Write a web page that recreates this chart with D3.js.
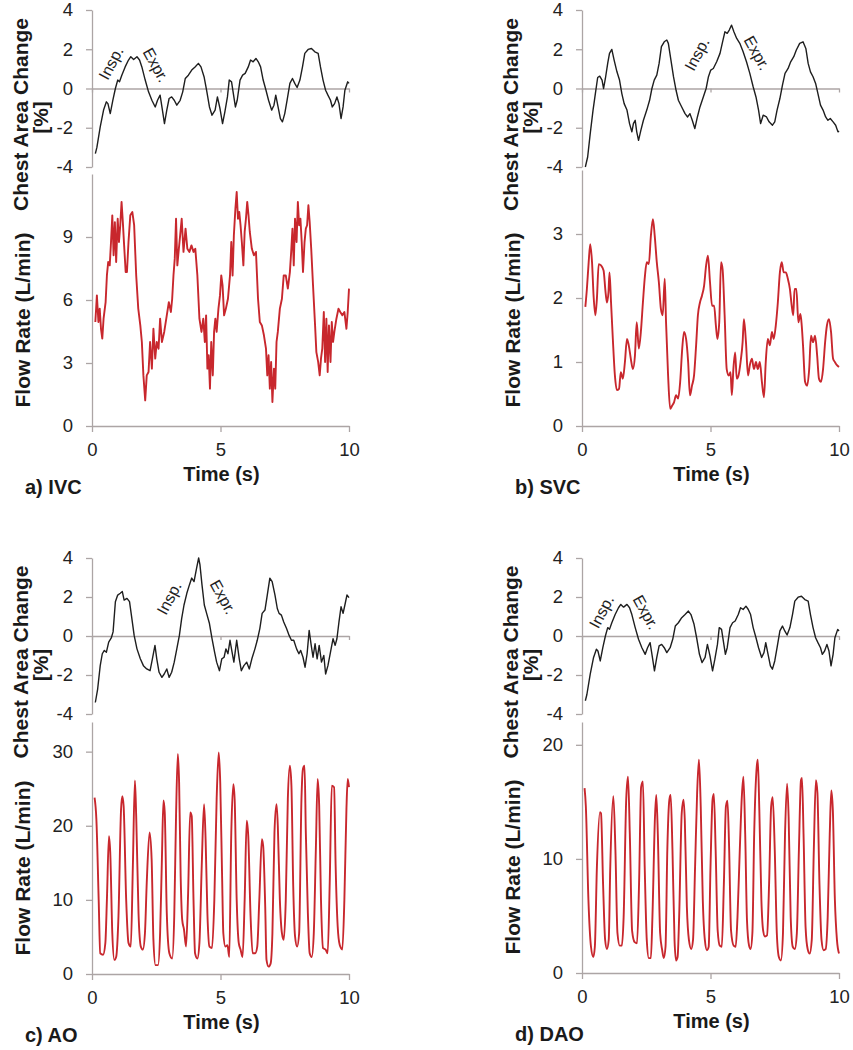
<!DOCTYPE html>
<html><head><meta charset="utf-8">
<script src="https://cdn.jsdelivr.net/npm/d3@7"></script>
<style>
body{margin:0;background:#fff}
svg{display:block}
text{font-family:"Liberation Sans",Arial,sans-serif}
</style>
</head><body><svg id="chart" width="853" height="1050"></svg>
<script>
// ---------- DATA ----------
const timeTicks = [0, 5, 10];
const chestTicks = [-4, -2, 0, 2, 4];
const ivcFlowTicks = [0, 3, 6, 9];
const svcFlowTicks = [0, 1, 2, 3];
const aoFlowTicks = [0, 10, 20, 30];
const daoFlowTicks = [0, 10, 20];
const panelLabels = ["a) IVC", "b) SVC", "c) AO", "d) DAO"];
const chestTitle = ["Chest Area Change", "[%]"];
const flowTitle = "Flow Rate (L/min)";
const timeTitle = "Time (s)";

// chest area change (%) vs time (s) — recorded with IVC and DAO
const chestIVC = [[0.13,-3.32],[0.19,-3.0],[0.32,-1.96],[0.45,-1.1],[0.56,-0.68],[0.62,-0.77],[0.71,-1.28],[0.81,-0.6],[0.91,0],[1.0,0.43],[1.07,0.34],[1.16,0.68],[1.29,1.1],[1.42,1.45],[1.51,1.62],[1.62,1.48],[1.75,1.62],[1.85,1.45],[1.94,1.1],[2.07,0.43],[2.2,-0.17],[2.33,-0.6],[2.46,-0.94],[2.55,-0.6],[2.65,-0.34],[2.74,-1.1],[2.82,-1.79],[2.91,-1.1],[3.0,-0.51],[3.1,-0.43],[3.2,-0.6],[3.3,-0.85],[3.43,-0.6],[3.53,-0.17],[3.63,0.51],[3.75,0.68],[3.88,0.94],[4.01,1.1],[4.14,1.28],[4.24,1.1],[4.36,0.6],[4.46,-0.09],[4.57,-0.94],[4.67,-1.36],[4.79,-1.1],[4.88,-0.43],[4.98,-1.02],[5.08,-1.79],[5.17,-1.19],[5.27,-0.43],[5.34,0.43],[5.43,0.34],[5.5,-0.26],[5.58,-0.94],[5.65,-0.6],[5.76,0.43],[5.86,0.68],[5.96,0.77],[6.08,1.1],[6.17,1.45],[6.27,1.36],[6.38,1.53],[6.47,1.36],[6.56,1.1],[6.66,0.43],[6.77,-0.09],[6.87,-0.6],[6.99,-1.1],[7.08,-0.85],[7.15,-0.34],[7.24,-0.94],[7.33,-1.53],[7.41,-1.7],[7.5,-1.28],[7.59,-0.6],[7.7,0.26],[7.8,0.51],[7.89,0.26],[7.98,0.05],[8.09,0.43],[8.19,1.1],[8.28,1.79],[8.41,1.99],[8.54,2.04],[8.67,1.87],[8.8,1.79],[8.89,1.1],[8.99,0.43],[9.09,-0.09],[9.18,-0.34],[9.28,-0.6],[9.35,-0.94],[9.44,-0.77],[9.53,-0.43],[9.61,-0.77],[9.69,-1.53],[9.77,-0.94],[9.84,-0.09],[9.95,0.34],[10.0,0.26]];

const chestSVC = [[0.13,-4.0],[0.22,-3.49],[0.32,-2.3],[0.43,-1.1],[0.52,-0.26],[0.61,0.56],[0.69,0.63],[0.78,0.43],[0.84,0],[0.91,0.51],[1.0,1.28],[1.07,1.79],[1.16,1.99],[1.25,1.45],[1.36,0.85],[1.46,0.43],[1.55,-0.26],[1.64,-0.77],[1.75,-1.1],[1.85,-1.79],[1.94,-2.21],[2.0,-1.79],[2.07,-1.62],[2.13,-2.21],[2.2,-2.64],[2.29,-2.13],[2.39,-1.62],[2.52,-1.1],[2.63,-0.6],[2.72,0],[2.81,0.43],[2.91,0.68],[3.0,1.28],[3.09,2.13],[3.2,2.38],[3.3,2.47],[3.36,2.3],[3.45,1.53],[3.56,0.6],[3.66,-0.09],[3.75,-0.6],[3.88,-0.94],[4.01,-1.28],[4.11,-1.45],[4.2,-1.28],[4.29,-1.62],[4.39,-2.04],[4.49,-1.45],[4.59,-0.94],[4.72,-0.43],[4.83,0],[4.92,0.6],[5.01,0.94],[5.11,1.02],[5.24,1.36],[5.37,1.79],[5.47,2.38],[5.56,2.89],[5.65,2.81],[5.73,2.98],[5.82,3.23],[5.91,2.89],[6.02,2.55],[6.14,2.3],[6.27,1.87],[6.4,1.36],[6.53,0.77],[6.66,0.09],[6.77,-0.43],[6.87,-1.1],[6.95,-1.79],[7.05,-1.36],[7.18,-1.45],[7.28,-1.7],[7.41,-1.87],[7.5,-1.7],[7.59,-1.1],[7.7,-0.51],[7.8,0.17],[7.9,0.77],[8.02,1.02],[8.12,1.36],[8.24,1.62],[8.34,1.96],[8.47,2.3],[8.6,2.38],[8.71,2.04],[8.8,1.28],[8.89,0.85],[8.99,0.6],[9.09,0.26],[9.18,-0.26],[9.28,-0.85],[9.38,-1.1],[9.48,-1.45],[9.57,-1.62],[9.66,-1.53],[9.77,-1.7],[9.87,-1.87],[9.96,-2.21],[10.0,-2.16]];

const chestAO = [[0.13,-3.41],[0.22,-2.72],[0.32,-1.52],[0.4,-0.91],[0.48,-0.74],[0.56,-0.83],[0.65,-0.31],[0.75,-0.1],[0.82,0.21],[0.91,1.76],[1.0,2.1],[1.1,2.19],[1.18,2.28],[1.25,1.84],[1.36,1.93],[1.46,1.76],[1.55,0.9],[1.64,0.03],[1.75,-0.66],[1.88,-1.17],[2.0,-1.52],[2.13,-1.69],[2.26,-1.78],[2.35,-1.17],[2.45,-0.48],[2.52,-1.17],[2.61,-1.86],[2.72,-2.12],[2.81,-1.95],[2.91,-1.69],[3.0,-2.12],[3.1,-1.86],[3.2,-1.34],[3.3,-0.66],[3.4,0.03],[3.49,0.9],[3.58,1.59],[3.69,2.19],[3.79,2.62],[3.88,2.97],[3.97,2.79],[4.07,3.48],[4.15,4.0],[4.2,3.66],[4.28,2.62],[4.37,1.59],[4.46,1.16],[4.57,0.64],[4.67,-0.14],[4.77,-0.83],[4.85,-1.34],[4.96,-1.78],[5.05,-1.17],[5.14,-1.09],[5.21,-0.66],[5.29,-0.91],[5.37,-0.22],[5.45,-0.83],[5.52,-1.34],[5.63,-0.22],[5.73,-1.17],[5.81,-1.78],[5.91,-1.52],[6.02,-1.34],[6.12,-1.69],[6.22,-1.17],[6.34,-0.66],[6.43,-0.22],[6.53,0.38],[6.62,1.16],[6.73,1.33],[6.82,2.1],[6.92,2.97],[7.01,2.79],[7.12,2.1],[7.21,1.41],[7.28,1.16],[7.37,1.07],[7.46,0.72],[7.57,0.38],[7.67,0.03],[7.76,-0.22],[7.85,-0.22],[7.96,-0.66],[8.05,-0.91],[8.12,-0.74],[8.21,-1.09],[8.29,-1.6],[8.37,-0.91],[8.45,0.29],[8.53,-0.48],[8.6,-1.09],[8.68,-0.4],[8.76,-1.17],[8.84,-0.48],[8.93,-1.34],[9.02,-1.0],[9.09,-1.95],[9.18,-1.52],[9.28,-0.83],[9.38,-0.14],[9.46,-0.48],[9.53,-0.14],[9.61,0.72],[9.69,1.5],[9.77,1.16],[9.84,1.59],[9.92,2.1],[10.0,1.97]];

// flow rate (L/min) vs time (s)
const flowIVC = [[0.13,4.95],[0.19,6.22],[0.25,4.95],[0.3,5.59],[0.35,4.63],[0.4,4.16],[0.45,5.11],[0.53,5.9],[0.58,7.17],[0.63,7.81],[0.69,7.65],[0.74,8.76],[0.79,10.03],[0.84,8.13],[0.89,9.71],[0.94,7.81],[1.0,9.87],[1.05,8.76],[1.1,9.56],[1.15,10.67],[1.2,9.71],[1.25,8.6],[1.31,7.33],[1.36,7.33],[1.42,8.76],[1.49,10.03],[1.57,10.19],[1.64,9.56],[1.72,7.17],[1.8,5.59],[1.88,4.79],[1.94,4.0],[2.0,2.41],[2.07,1.22],[2.13,2.41],[2.2,2.57],[2.26,4.0],[2.33,2.73],[2.39,4.63],[2.46,3.21],[2.52,4.0],[2.59,3.68],[2.65,5.11],[2.72,4.0],[2.81,4.48],[2.91,5.27],[2.99,5.9],[3.07,5.43],[3.12,6.06],[3.17,7.17],[3.22,7.97],[3.27,9.87],[3.32,7.65],[3.38,8.44],[3.43,9.08],[3.49,9.87],[3.56,8.29],[3.64,9.4],[3.71,8.44],[3.79,8.29],[3.87,8.6],[3.95,8.29],[4.02,8.44],[4.1,7.17],[4.18,5.11],[4.26,4.48],[4.33,5.11],[4.39,4.0],[4.44,5.27],[4.49,2.73],[4.54,3.37],[4.59,1.78],[4.64,4.0],[4.7,2.41],[4.75,4.48],[4.8,5.11],[4.85,4.48],[4.92,5.59],[4.98,6.22],[5.03,7.17],[5.08,6.7],[5.14,5.27],[5.21,5.59],[5.29,6.06],[5.37,7.17],[5.42,8.76],[5.47,7.17],[5.52,9.08],[5.58,10.35],[5.63,11.14],[5.68,9.87],[5.73,10.19],[5.78,9.56],[5.83,8.76],[5.89,7.65],[5.94,9.24],[5.99,9.87],[6.04,10.67],[6.09,10.03],[6.14,9.24],[6.22,8.44],[6.3,8.13],[6.38,8.29],[6.46,6.06],[6.53,4.95],[6.61,4.79],[6.69,4.32],[6.77,3.68],[6.82,2.41],[6.87,3.37],[6.92,1.78],[6.97,3.05],[7.02,1.14],[7.08,2.73],[7.13,1.78],[7.18,4.0],[7.23,4.48],[7.31,5.59],[7.39,6.06],[7.46,7.17],[7.54,7.17],[7.62,6.54],[7.7,7.33],[7.75,8.29],[7.8,9.4],[7.85,7.65],[7.9,9.87],[7.96,8.76],[8.01,10.67],[8.06,9.56],[8.11,9.87],[8.16,8.76],[8.21,7.33],[8.27,8.76],[8.32,9.4],[8.37,9.56],[8.42,10.51],[8.47,9.71],[8.53,8.44],[8.6,6.7],[8.68,4.79],[8.73,3.52],[8.8,3.05],[8.86,2.41],[8.91,3.21],[8.96,3.68],[9.02,5.43],[9.07,3.05],[9.12,5.11],[9.17,2.57],[9.22,4.79],[9.28,3.05],[9.33,4.95],[9.38,4.0],[9.43,4.48],[9.51,5.11],[9.59,5.59],[9.66,5.43],[9.74,5.27],[9.82,5.43],[9.9,4.63],[9.95,5.43],[10.0,6.54]];

const flowSVC = [[0.13,1.86],[0.19,2.14],[0.26,2.56],[0.32,2.84],[0.39,2.56],[0.45,2.04],[0.52,1.73],[0.58,1.99],[0.65,2.53],[0.74,2.51],[0.84,2.43],[0.91,2.12],[0.97,1.93],[1.03,2.09],[1.07,2.4],[1.13,1.93],[1.2,1.36],[1.28,0.79],[1.36,0.56],[1.44,0.58],[1.51,0.84],[1.59,0.74],[1.67,1.0],[1.75,1.36],[1.82,1.26],[1.9,1.05],[1.98,0.89],[2.06,1.1],[2.13,1.62],[2.21,1.21],[2.29,1.47],[2.37,1.93],[2.45,2.35],[2.52,2.56],[2.6,2.53],[2.68,2.97],[2.76,3.23],[2.83,2.97],[2.91,2.56],[2.99,2.25],[3.07,1.83],[3.14,1.73],[3.22,2.3],[3.27,1.62],[3.35,0.79],[3.43,0.27],[3.51,0.32],[3.58,0.37],[3.66,0.48],[3.74,0.43],[3.82,0.69],[3.9,1.21],[3.97,1.47],[4.05,1.36],[4.13,1.0],[4.2,0.48],[4.28,0.63],[4.36,0.79],[4.44,1.26],[4.51,1.73],[4.59,1.93],[4.67,2.04],[4.75,2.19],[4.83,2.51],[4.9,2.66],[4.98,2.25],[5.06,1.88],[5.14,1.88],[5.21,1.57],[5.27,1.36],[5.34,1.62],[5.41,2.56],[5.47,2.45],[5.55,1.73],[5.63,0.89],[5.71,0.79],[5.78,0.84],[5.83,0.48],[5.89,0.89],[5.96,1.15],[6.02,0.74],[6.09,0.79],[6.17,1.0],[6.25,1.31],[6.3,1.67],[6.38,1.31],[6.46,0.79],[6.53,0.95],[6.61,1.05],[6.69,0.89],[6.77,1.0],[6.84,0.89],[6.92,1.0],[7.0,0.69],[7.08,0.45],[7.15,1.0],[7.23,1.36],[7.31,1.26],[7.39,1.47],[7.46,1.36],[7.54,1.57],[7.62,1.93],[7.7,2.4],[7.77,2.56],[7.85,2.4],[7.93,2.4],[8.01,2.3],[8.09,2.14],[8.16,1.88],[8.22,1.73],[8.27,2.14],[8.34,2.14],[8.42,1.62],[8.5,1.75],[8.55,1.57],[8.6,1.26],[8.68,0.69],[8.76,0.63],[8.84,0.89],[8.91,1.41],[8.99,1.31],[9.07,1.41],[9.15,1.1],[9.22,0.74],[9.3,0.69],[9.38,0.89],[9.46,1.31],[9.53,1.57],[9.61,1.67],[9.69,1.47],[9.77,1.05],[9.84,1.0],[9.92,0.95],[10.0,0.92]];

const flowAO = [[0.1,23.8],[0.17,20.9],[0.26,10.0],[0.32,2.8],[0.43,2.6],[0.52,4.2],[0.58,10.0],[0.66,18.6],[0.71,16.4],[0.79,5.5],[0.87,1.9],[0.94,2.3],[1.03,7.8],[1.13,22.2],[1.18,24.0],[1.23,22.7],[1.33,10.0],[1.42,4.2],[1.51,3.7],[1.59,14.6],[1.67,26.1],[1.72,21.3],[1.81,8.2],[1.9,3.7],[1.98,3.3],[2.06,5.5],[2.13,12.3],[2.24,19.1],[2.32,15.5],[2.39,4.6],[2.47,1.2],[2.57,1.2],[2.65,5.5],[2.72,15.5],[2.78,23.4],[2.83,21.8],[2.91,8.2],[3.01,2.8],[3.12,2.1],[3.2,7.8],[3.27,21.3],[3.34,29.7],[3.39,25.8],[3.45,13.2],[3.51,7.3],[3.58,6.0],[3.66,3.7],[3.74,10.9],[3.82,21.8],[3.88,21.3],[3.95,10.0],[4.01,2.8],[4.1,2.1],[4.18,4.2],[4.27,14.6],[4.36,22.9],[4.42,18.2],[4.49,8.2],[4.57,3.7],[4.67,3.5],[4.76,10.0],[4.85,23.6],[4.93,29.9],[4.99,25.8],[5.06,13.6],[5.11,5.5],[5.19,3.7],[5.27,3.9],[5.34,2.3],[5.42,19.1],[5.5,25.6],[5.55,23.6],[5.63,10.0],[5.71,4.2],[5.78,3.3],[5.86,2.3],[5.94,10.0],[6.02,20.7],[6.08,18.6],[6.17,7.8],[6.25,2.8],[6.35,2.8],[6.43,3.7],[6.51,10.0],[6.61,18.2],[6.66,17.3],[6.74,9.1],[6.79,1.9],[6.87,1.0],[6.95,1.4],[7.02,5.5],[7.1,19.1],[7.18,22.9],[7.23,20.0],[7.31,10.0],[7.39,5.5],[7.46,4.6],[7.54,10.0],[7.62,23.6],[7.7,28.1],[7.76,25.4],[7.83,11.8],[7.9,5.1],[7.98,3.7],[8.06,5.5],[8.15,23.6],[8.21,27.7],[8.27,28.1],[8.32,19.1],[8.4,8.2],[8.47,2.8],[8.55,2.3],[8.63,5.5],[8.71,16.8],[8.78,26.3],[8.84,22.7],[8.91,10.0],[8.99,3.5],[9.09,3.3],[9.17,2.8],[9.25,12.3],[9.33,25.4],[9.42,25.2],[9.48,14.6],[9.56,6.4],[9.64,3.9],[9.74,3.3],[9.82,10.0],[9.9,22.2],[9.95,26.3],[10.0,25.2]];

const flowDAO = [[0.1,16.2],[0.15,14.6],[0.25,6.4],[0.35,2.3],[0.44,1.4],[0.5,2.3],[0.58,9.3],[0.7,14.1],[0.74,14.0],[0.82,7.8],[0.9,2.9],[0.97,2.1],[1.04,2.9],[1.1,9.3],[1.22,15.5],[1.3,10.8],[1.38,3.5],[1.47,2.4],[1.55,2.4],[1.62,4.9],[1.72,15.2],[1.79,17.2],[1.86,12.2],[1.95,3.7],[2.05,2.7],[2.14,2.6],[2.22,7.8],[2.3,16.3],[2.37,16.8],[2.44,9.3],[2.52,2.9],[2.6,1.3],[2.68,1.3],[2.74,4.9],[2.84,13.7],[2.89,15.6],[2.95,12.2],[3.04,3.5],[3.12,2.0],[3.18,1.3],[3.25,2.3],[3.32,10.8],[3.4,15.2],[3.45,15.6],[3.52,10.8],[3.6,2.9],[3.66,1.1],[3.72,1.4],[3.78,4.9],[3.88,14.0],[3.95,15.2],[4.0,13.4],[4.08,5.8],[4.16,2.9],[4.25,2.1],[4.32,2.9],[4.4,9.3],[4.48,15.8],[4.55,18.7],[4.62,14.6],[4.7,6.4],[4.78,2.9],[4.86,2.0],[4.93,2.3],[5.0,9.3],[5.08,15.2],[5.13,15.7],[5.2,10.8],[5.28,3.7],[5.36,2.4],[5.44,2.3],[5.52,7.8],[5.6,14.6],[5.66,15.1],[5.72,11.4],[5.8,3.7],[5.9,2.4],[5.98,2.3],[6.05,4.9],[6.14,10.8],[6.22,15.5],[6.28,17.2],[6.35,12.2],[6.42,4.6],[6.5,2.4],[6.56,2.1],[6.63,3.5],[6.7,12.2],[6.8,18.1],[6.84,18.7],[6.9,14.3],[6.98,6.4],[7.05,3.7],[7.12,3.2],[7.2,3.3],[7.28,7.8],[7.36,14.6],[7.42,15.4],[7.5,10.8],[7.58,3.5],[7.66,1.4],[7.74,1.1],[7.82,3.5],[7.9,12.2],[7.98,16.6],[8.04,13.7],[8.12,4.9],[8.2,2.3],[8.28,2.1],[8.36,3.5],[8.44,10.8],[8.52,16.9],[8.56,17.1],[8.62,12.2],[8.7,4.0],[8.78,2.1],[8.86,1.7],[8.94,2.9],[9.02,10.8],[9.1,16.9],[9.16,15.8],[9.24,7.8],[9.32,2.9],[9.4,2.0],[9.48,2.1],[9.56,4.9],[9.64,12.2],[9.7,16.0],[9.76,14.3],[9.84,6.4],[9.92,2.9],[10.0,1.7]];

// respiratory phase annotations: [text, time (s), chest value (%)]
const notesIVC = [["Insp.", 0.74, 1.3], ["Expr.", 2.49, 1.2]];
const notesSVC = [["Insp.", 4.47, 1.76], ["Expr.", 6.81, 1.81]];
const notesAO  = [["Insp.", 3.0, 1.95], ["Expr.", 5.1, 2.0]];
const notesDAO = [["Insp.", 0.76, 1.25], ["Expr.", 2.49, 1.22]];

// ---------- LAYOUT / STYLE ----------
const AXIS = "#aca5a5", RED = "#c8272d", BLACK = "#1e1e1e";
const panels = [
  {label: panelLabels[0], chest: chestIVC, flow: flowIVC, fmax: 12, fticks: ivcFlowTicks, notes: notesIVC,
   x0: 92, cTop: 10, cBot: 167, fTop: 174, fBot: 426, curve: d3.curveLinear},
  {label: panelLabels[1], chest: chestSVC, flow: flowSVC, fmax: 4, fticks: svcFlowTicks, notes: notesSVC,
   x0: 582, cTop: 10, cBot: 167, fTop: 170, fBot: 426, curve: d3.curveMonotoneX},
  {label: panelLabels[2], chest: chestAO, flow: flowAO, fmax: 34, fticks: aoFlowTicks, notes: notesAO,
   x0: 92, cTop: 558, cBot: 714, fTop: 722, fBot: 974, curve: d3.curveMonotoneX},
  {label: panelLabels[3], chest: chestIVC, flow: flowDAO, fmax: 22, fticks: daoFlowTicks, notes: notesDAO,
   x0: 582, cTop: 558, cBot: 714, fTop: 722, fBot: 973, curve: d3.curveMonotoneX}
];
const noteAngle = {"Insp.": -62, "Expr.": 61};
const TICK_FS = 18.5;

const svg = d3.select("#chart");

function styleAxis(g) {
  g.select(".domain").attr("stroke", AXIS).attr("stroke-width", 1.3);
  g.selectAll(".tick line").attr("stroke", AXIS).attr("stroke-width", 1.3);
  g.selectAll(".tick text").attr("fill", "#222").attr("font-size", TICK_FS)
    .attr("font-family", '"Liberation Sans", Arial, sans-serif');
}

panels.forEach(p => {
  const g = svg.append("g");
  const x = d3.scaleLinear().domain([0, 10]).range([p.x0, p.x0 + 257]);
  const yc = d3.scaleLinear().domain([-4, 4]).range([p.cBot, p.cTop]);
  const yf = d3.scaleLinear().domain([0, p.fmax]).range([p.fBot, p.fTop]);

  // chest: y axis
  g.append("g").attr("transform", `translate(${p.x0},0)`)
    .call(d3.axisLeft(yc).tickValues(chestTicks).tickSize(6).tickSizeOuter(0).tickPadding(13).tickFormat(d => String(d)))
    .call(styleAxis);
  // chest: zero line with small ticks
  g.append("g").attr("transform", `translate(0,${yc(0)})`)
    .call(d3.axisBottom(x).tickValues(timeTicks).tickSize(4).tickSizeOuter(0).tickFormat(""))
    .call(styleAxis);

  // flow: y axis
  g.append("g").attr("transform", `translate(${p.x0},0)`)
    .call(d3.axisLeft(yf).tickValues(p.fticks).tickSize(6).tickSizeOuter(0).tickPadding(13).tickFormat(d => String(d)))
    .call(styleAxis);
  // flow: x axis
  g.append("g").attr("transform", `translate(0,${yf(0)})`)
    .call(d3.axisBottom(x).tickValues(timeTicks).tickSize(6).tickSizeOuter(0).tickPadding(11).tickFormat(d => String(d)))
    .call(styleAxis);

  // chest line
  g.append("path").datum(p.chest)
    .attr("fill", "none").attr("stroke", BLACK).attr("stroke-width", 1.4).attr("stroke-linejoin", "round")
    .attr("d", d3.line().x(d => x(d[0])).y(d => yc(d[1])));
  // flow line
  g.append("path").datum(p.flow)
    .attr("fill", "none").attr("stroke", RED).attr("stroke-width", 1.9).attr("stroke-linejoin", "round")
    .attr("d", d3.line().curve(p.curve).x(d => x(d[0])).y(d => yf(d[1])));

  // annotations
  p.notes.forEach(n => {
    g.append("text")
      .attr("transform", `translate(${x(n[1])},${yc(n[2])}) rotate(${noteAngle[n[0]]})`)
      .attr("text-anchor", "middle").attr("dy", "0.35em")
      .attr("font-size", 16).attr("fill", "#222").text(n[0]);
  });

  // titles
  const ox = p.x0 - 92;
  const cMid = (p.cTop + p.cBot) / 2 + 26;
  g.append("text").attr("transform", `translate(${ox + 28},${cMid}) rotate(-90)`)
    .attr("text-anchor", "middle").attr("font-weight", "bold").attr("font-size", 21).attr("fill", "#1a1a1a")
    .text(chestTitle[0]);
  g.append("text").attr("transform", `translate(${ox + 48},${cMid + 3}) rotate(-90)`)
    .attr("text-anchor", "middle").attr("font-weight", "bold").attr("font-size", 21).attr("fill", "#1a1a1a")
    .text(chestTitle[1]);
  g.append("text").attr("transform", `translate(${ox + 30},${p.fBot - 106}) rotate(-90)`)
    .attr("text-anchor", "middle").attr("font-weight", "bold").attr("font-size", 21).attr("fill", "#1a1a1a")
    .text(flowTitle);
  g.append("text").attr("x", x(5) + 1).attr("y", p.fBot + 55)
    .attr("text-anchor", "middle").attr("font-weight", "bold").attr("font-size", 20).attr("fill", "#1a1a1a")
    .text(timeTitle);
  g.append("text").attr("x", ox + 25).attr("y", p.fBot + 68)
    .attr("font-weight", "bold").attr("font-size", 20).attr("fill", "#1a1a1a")
    .text(p.label);
});
</script>
</body></html>
